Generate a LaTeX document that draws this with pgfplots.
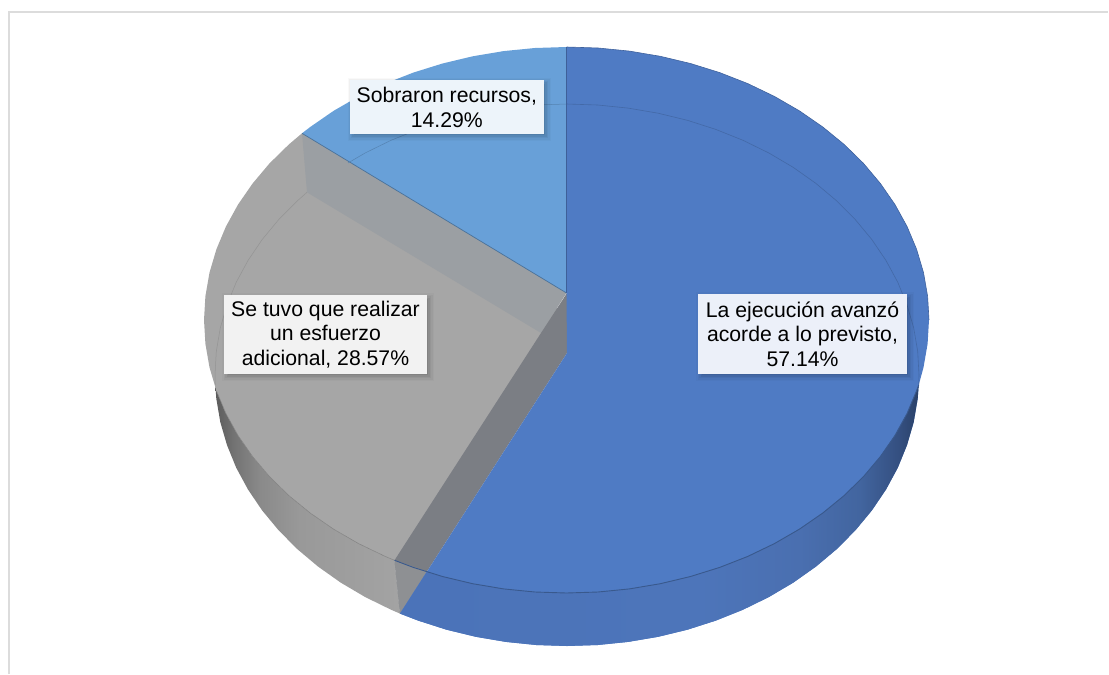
\documentclass[border=0pt]{standalone}
\usepackage{pgfplots}
\pgfplotsset{compat=1.18}
\usepackage{fontspec}
\setmainfont{Liberation Sans}

\definecolor{bluetop}{HTML}{4F7BC4}
\definecolor{bluelight}{HTML}{68A0D8}
\definecolor{graytop}{HTML}{A6A6A6}
\definecolor{wallupper}{HTML}{9B9FA3}
\definecolor{wallfront}{HTML}{7B7E84}
\definecolor{wallbase}{HTML}{8E9093}
\definecolor{framegray}{HTML}{DCDCDC}

% Rim shading: the outer ends of each rim fall off into shadow.
\pgfdeclarehorizontalshading{rimgray}{100bp}{
  rgb(0bp)=(.36,.36,.36);
  rgb(25bp)=(.36,.36,.36);
  rgb(30bp)=(.45,.45,.45);
  rgb(37bp)=(.54,.54,.54);
  rgb(48bp)=(.60,.60,.60);
  rgb(75bp)=(.64,.64,.64);
  rgb(100bp)=(.64,.64,.64)}
\pgfdeclarehorizontalshading{rimblue}{100bp}{
  rgb(0bp)=(.294,.451,.725);
  rgb(25bp)=(.294,.451,.725);
  rgb(54bp)=(.302,.459,.729);
  rgb(63.5bp)=(.290,.435,.690);
  rgb(69.3bp)=(.259,.396,.624);
  rgb(73.1bp)=(.204,.310,.502);
  rgb(75bp)=(.165,.255,.408);
  rgb(100bp)=(.165,.255,.408)}

% Data label: a soft shadow under a pale box holding centred text.
\newcommand{\shadowlayer}[6]{%
  \node[fill=black,fill opacity=#6,draw=none,inner sep=0pt,
        minimum width=#3pt+#5pt,minimum height=#4pt+#5pt]
    at (axis cs:#1+2.5,#2+2.5) {};
}
\newcommand{\slicelabel}[6]{%
  \shadowlayer{#1}{#2}{#3}{#4}{9}{.025}
  \shadowlayer{#1}{#2}{#3}{#4}{6}{.035}
  \shadowlayer{#1}{#2}{#3}{#4}{3}{.045}
  \shadowlayer{#1}{#2}{#3}{#4}{0}{.055}
  \shadowlayer{#1}{#2}{#3}{#4}{-3}{.065}
  \node[fill=#5,draw=none,inner sep=0pt,minimum width=#3pt,minimum height=#4pt,
        align=center,text=black,
        font=\fontsize{21.2}{24.6}\selectfont]
    at (axis cs:#1,#2) {#6};
}

\begin{document}
\begin{tikzpicture}
\begin{axis}[
  scale only axis,
  width=1109pt,height=675pt,
  xmin=0,xmax=1109,ymin=0,ymax=675,
  y dir=reverse,
  hide axis,
  clip=false,
]
% reserve the full canvas
\path (axis cs:0,0) rectangle (axis cs:1109,675);
% chart frame
\addplot[framegray,line width=2pt,forget plot] coordinates {(8.5,674) (8.5,12) (1108,12)};

% rim of the grey slice
\addplot[shade,shading=rimgray,draw=none,forget plot] coordinates {
  (215.3,385) (216.3,398.6) (220.3,422.1) (227,445.1) (236.2,467.7) (248,489.5)
  (262.2,510.5) (278.7,530.4) (297.4,549.2) (318.1,566.6) (340.7,582.6) (365.1,597)
  (391,609.7) (400,613.6) (394.5,560.3) (385.2,556.4) (358.6,543.6) (333.5,529.1)
  (310.2,513) (288.8,495.5) (269.5,476.6) (252.6,456.5) (238,435.4) (225.9,413.4)
  (216.4,390.7)
} -- cycle;

% top face of the grey slice, running under the inner walls
\addplot[fill=graytop,draw=none,forget plot] coordinates {
  (560,310) (405,562) (394.5,560.3) (385.2,556.4) (358.6,543.6) (333.5,529.1) (310.2,513)
  (288.8,495.5) (269.5,476.6) (252.6,456.5) (238,435.4) (225.9,413.4) (216.4,390.7)
  (209.5,367.4) (205.4,343.8) (204,320) (205.4,296.2) (209.5,272.6) (216.4,249.3)
  (225.9,226.6) (238,204.6) (252.6,183.5) (269.5,163.4) (288.8,144.5) (302,133.3)
} -- cycle;
% faint base circle seen through the grey slice
\addplot[color=black!42,line width=.5pt,forget plot] coordinates {
  (307,192.3) (297.4,200.8) (278.7,219.6) (262.2,239.5) (248,260.5) (236.2,282.3)
  (227,304.9) (220.3,327.9) (216.3,351.4) (215,375) (215.3,385)
};
\addplot[color=black!50,line width=.5pt,forget plot] coordinates {
  (394.5,560.3) (385.2,556.4) (358.6,543.6) (333.5,529.1) (310.2,513)
  (288.8,495.5) (269.5,476.6) (252.6,456.5) (238,435.4) (225.9,413.4) (216.4,390.7)
};

% inner walls of the grey slice
\addplot[fill=wallupper,draw=none,forget plot] coordinates {
  (302,133.3) (566.5,293) (541,333) (307,192.3)
} -- cycle;
\addplot[fill=wallfront,draw=none,forget plot] coordinates {
  (567,293) (541,333) (394.5,560.3) (400,613.6) (567,353)
} -- cycle;
\addplot[fill=wallbase,draw=none,forget plot] coordinates {
  (394.5,560.3) (400,613.6) (427,571.5)
} -- cycle;

% light blue slice
\addplot[fill=bluelight,draw=none,forget plot] coordinates {
  (566.5,293) (566.5,47) (534.9,48) (503.6,51.1) (472.7,56.3) (442.5,63.5) (413.3,72.6)
  (385.2,83.6) (358.6,96.4) (333.5,110.9) (310.2,127) (302,133.3)
} -- cycle;
\addplot[color=bluelight!70!black,line width=.7pt,forget plot] coordinates {
  (302,133.3) (566.5,293)
};
\addplot[color=bluelight!82!black,line width=.5pt,forget plot] coordinates {
  (567,104) (536.3,105) (505.9,108.1) (475.9,113.2) (446.6,120.3) (418.2,129.4)
  (391,140.3) (365.1,153) (348,163)
};

% dark blue slice: the silhouette of its top and rim
\addplot[fill=bluetop,draw=none,forget plot] coordinates {
  (566.5,47) (598.1,48) (629.4,51.1) (660.3,56.3) (690.5,63.5) (719.7,72.6) (747.8,83.6)
  (774.4,96.4) (799.5,110.9) (822.8,127) (844.2,144.5) (863.5,163.4) (880.4,183.5)
  (895,204.6) (907.1,226.6) (916.6,249.3) (923.5,272.6) (927.6,296.2) (929,320)
  (927.6,343.8) (923.5,367.4) (918.7,385) (917.7,398.6) (913.7,422.1) (907,445.1)
  (897.8,467.7) (886,489.5) (871.8,510.5) (855.3,530.4) (836.6,549.2) (815.9,566.6)
  (793.3,582.6) (768.9,597) (743,609.7) (715.8,620.6) (687.4,629.7) (658.1,636.8)
  (628.1,641.9) (597.7,645) (567,646) (536.3,645) (505.9,641.9) (475.9,636.8)
  (446.6,629.7) (418.2,620.6) (400,613.6) (567,353) (566.5,293)
} -- cycle;

% rim of the dark blue slice
\addplot[shade,shading=rimblue,draw=none,forget plot] coordinates {
  (918.7,385) (917.7,398.6) (913.7,422.1) (907,445.1) (897.8,467.7) (886,489.5)
  (871.8,510.5) (855.3,530.4) (836.6,549.2) (815.9,566.6) (793.3,582.6) (768.9,597)
  (743,609.7) (715.8,620.6) (687.4,629.7) (658.1,636.8) (628.1,641.9) (597.7,645)
  (567,646) (536.3,645) (505.9,641.9) (475.9,636.8) (446.6,629.7) (418.2,620.6)
  (400,613.6) (427,571.5) (442.5,576.5) (472.7,583.7) (503.6,588.9) (534.9,592)
  (566.5,593) (598.1,592) (629.4,588.9) (660.3,583.7) (690.5,576.5) (719.7,567.4)
  (747.8,556.4) (774.4,543.6) (799.5,529.1) (822.8,513) (844.2,495.5) (863.5,476.6)
  (880.4,456.5) (895,435.4) (907.1,413.4) (916.6,390.7)
} -- cycle;

% front edge of the top face
\addplot[color=bluetop!72!black,line width=.9pt,forget plot] coordinates {
  (394.5,560.3) (413.3,567.4) (442.5,576.5) (472.7,583.7) (503.6,588.9) (534.9,592)
  (566.5,593) (598.1,592) (629.4,588.9) (660.3,583.7) (690.5,576.5) (719.7,567.4)
  (747.8,556.4) (774.4,543.6) (799.5,529.1) (822.8,513) (844.2,495.5) (863.5,476.6)
  (880.4,456.5) (895,435.4) (907.1,413.4) (916.6,390.7) (918.7,385)
};
% base circle seen through the top face
\addplot[color=bluetop!85!black,line width=.6pt,forget plot] coordinates {
  (566.5,104) (597.7,105) (628.1,108.1) (658.1,113.2) (687.4,120.3) (715.8,129.4)
  (743,140.3) (768.9,153) (793.3,167.4) (815.9,183.4) (836.6,200.8) (855.3,219.6)
  (871.8,239.5) (886,260.5) (897.8,282.3) (907,304.9) (913.7,327.9) (917.7,351.4)
  (919,375) (918.7,385)
};
% outer edge of the top face and the edge shared with the light blue slice
\addplot[color=bluetop!80!black,line width=.6pt,forget plot] coordinates {
  (566.5,47) (598.1,48) (629.4,51.1) (660.3,56.3) (690.5,63.5) (719.7,72.6) (747.8,83.6)
  (774.4,96.4) (799.5,110.9) (822.8,127) (844.2,144.5) (863.5,163.4) (880.4,183.5)
  (895,204.6) (907.1,226.6) (916.6,249.3) (923.5,272.6) (927.6,296.2) (929,320)
};
\addplot[color=bluetop!78!black,line width=1.2pt,forget plot] coordinates {
  (566.5,47) (566.5,293)
};

\slicelabel{446.8}{107.2}{194.5}{54.5}{bluelight!12!white}{Sobraron recursos,\\14.29\%}
\slicelabel{325.5}{334.5}{203}{79}{black!5}{Se tuvo que realizar\\un esfuerzo\\adicional, 28.57\%}
\slicelabel{802.5}{334}{209}{80}{bluetop!11!white}{La ejecución avanzó\\acorde a lo previsto,\\57.14\%}
\end{axis}
\end{tikzpicture}
\end{document}
